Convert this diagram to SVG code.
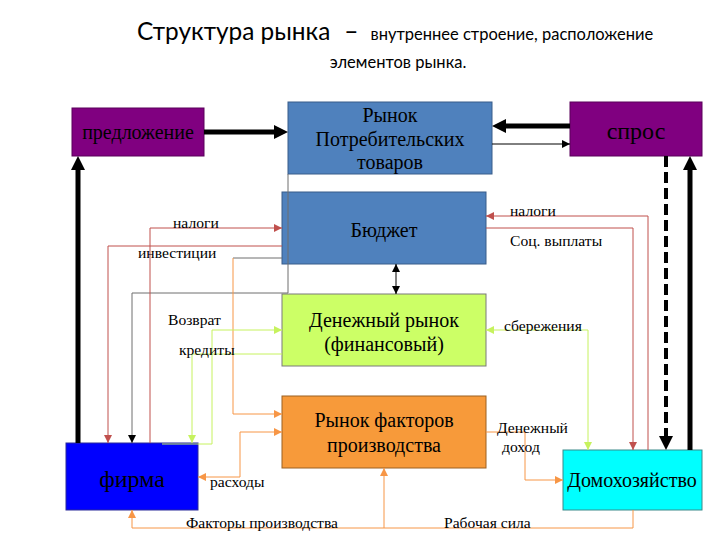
<svg xmlns="http://www.w3.org/2000/svg" width="720" height="540" viewBox="0 0 720 540">
<defs>
<style>
.title{font-family:Lato,"Open Sans","Liberation Sans",sans-serif;fill:#000}
.nt{font-family:"Liberation Serif","Times New Roman",serif;fill:#000;text-anchor:middle}
.lb{font-family:"Liberation Serif","Times New Roman",serif;font-size:15.6px;fill:#000}
.thick{fill:none;stroke:#000;stroke-width:5}
.dash{fill:none;stroke:#000;stroke-width:4;stroke-dasharray:11,5}
.thin{fill:none;stroke:#000;stroke-width:1}
.gray{fill:none;stroke:#6e6e6e;stroke-width:1}
.red{fill:none;stroke:#C0504D;stroke-width:1}
.grn{fill:none;stroke:#C6F25E;stroke-width:1}
.org{fill:none;stroke:#F79646;stroke-width:1}
</style>
<marker id="mBig" viewBox="0 0 14 14" refX="6" refY="7" markerWidth="14" markerHeight="14" markerUnits="userSpaceOnUse" orient="auto"><path d="M0,0 L14,7 L0,14 z" fill="#000"/></marker>
<marker id="mBlk" viewBox="0 0 8 8" refX="8" refY="4" markerWidth="8" markerHeight="8" markerUnits="userSpaceOnUse" orient="auto-start-reverse"><path d="M0,0 L8,4 L0,8 z" fill="#000"/></marker>
<marker id="mRed" viewBox="0 0 8 8" refX="8" refY="4" markerWidth="8" markerHeight="8" markerUnits="userSpaceOnUse" orient="auto-start-reverse"><path d="M0,0 L8,4 L0,8 z" fill="#C0504D"/></marker>
<marker id="mGrn" viewBox="0 0 8 8" refX="8" refY="4" markerWidth="8" markerHeight="8" markerUnits="userSpaceOnUse" orient="auto-start-reverse"><path d="M0,0 L8,4 L0,8 z" fill="#C6F25E"/></marker>
<marker id="mOrg" viewBox="0 0 8 8" refX="8" refY="4" markerWidth="8" markerHeight="8" markerUnits="userSpaceOnUse" orient="auto-start-reverse"><path d="M0,0 L8,4 L0,8 z" fill="#F79646"/></marker>
</defs>
<rect width="720" height="540" fill="#fff"/>
<g id="title">
<text class="title" x="137" y="40"><tspan font-size="24.4">Структура рынка</tspan><tspan font-size="24.4" dx="14">–</tspan><tspan font-size="16.5" dx="12">внутреннее строение, расположение</tspan></text>
<text class="title" x="398" y="68" font-size="16.5" text-anchor="middle">элементов рынка.</text>
</g>
<g id="node-supply">
<rect x="72" y="108" width="132" height="48" fill="#800080" stroke="#5a005a"/>
<text class="nt" x="138" y="139" font-size="20">предложение</text>
</g>
<g id="node-consumer-market">
<rect x="288" y="102" width="204" height="72" fill="#4F81BD" stroke="#385D8A"/>
<text class="nt" x="390" y="122" font-size="20">Рынок</text>
<text class="nt" x="390" y="146" font-size="20">Потребительских</text>
<text class="nt" x="390" y="169" font-size="20">товаров</text>
</g>
<g id="node-demand">
<rect x="570" y="102" width="132" height="54" fill="#800080" stroke="#5a005a"/>
<text class="nt" x="636" y="139" font-size="24">спрос</text>
</g>
<g id="node-budget">
<rect x="282" y="192" width="204" height="72" fill="#4F81BD" stroke="#385D8A"/>
<text class="nt" x="384" y="237" font-size="20">Бюджет</text>
</g>
<g id="node-money-market">
<rect x="282" y="294" width="204" height="72" fill="#CCFF66" stroke="#7a7a7a"/>
<text class="nt" x="384" y="327" font-size="20">Денежный рынок</text>
<text class="nt" x="384" y="351" font-size="20">(финансовый)</text>
</g>
<g id="node-factor-market">
<rect x="282" y="396" width="204" height="72" fill="#F79A3A" stroke="#9c6020"/>
<text class="nt" x="384" y="427" font-size="20">Рынок факторов</text>
<text class="nt" x="384" y="452" font-size="20">производства</text>
</g>
<g id="node-firm">
<rect x="66" y="443" width="132" height="67" fill="#0000FF" stroke="#2a2a99"/>
<text class="nt" x="132" y="487" font-size="24">фирма</text>
</g>
<g id="node-household">
<rect x="563" y="450" width="139" height="60" fill="#00FFFF" stroke="#3a8a8a"/>
<text class="nt" x="632" y="487" font-size="20">Домохозяйство</text>
</g>
<g id="connectors">
<path class="thick" d="M204,132 H280" marker-end="url(#mBig)"/>
<path class="thick" d="M570,126 H500" marker-end="url(#mBig)"/>
<path class="thin" d="M492,144 H570" marker-end="url(#mBlk)"/>
<path class="thick" d="M78,443 V164" marker-end="url(#mBig)"/>
<path class="thick" d="M690,450 V164" marker-end="url(#mBig)"/>
<path class="dash" d="M666,156 V442" marker-end="url(#mBig)"/>
<path class="gray" d="M288,174 V293 H132 V443" marker-end="url(#mBlk)"/>
<path class="thin" d="M396,264 V294" marker-start="url(#mBlk)" marker-end="url(#mBlk)"/>
<path class="red" d="M150,443 V228 H282" marker-end="url(#mRed)"/>
<path class="red" d="M282,246 H108 V443" marker-end="url(#mRed)"/>
<path class="gray" d="M282,258 H233"/>
<path class="org" d="M233,258 V414 H282" marker-end="url(#mOrg)"/>
<path class="grn" d="M162,444 H212 V330 H282" marker-end="url(#mGrn)"/>
<path class="grn" d="M282,354 H192 V443" marker-end="url(#mGrn)"/>
<path class="org" d="M198,477 H240 V432 H282" marker-start="url(#mOrg)" marker-end="url(#mOrg)"/>
<path class="org" d="M633,510 V528 H132 V510" marker-end="url(#mOrg)"/>
<path class="org" d="M384,528 V468" marker-end="url(#mOrg)"/>
<path class="org" d="M486,432 H525 V480 H563" marker-end="url(#mOrg)"/>
<path class="grn" d="M486,330 H588 V450" marker-start="url(#mGrn)" marker-end="url(#mGrn)"/>
<path class="red" d="M648,450 V216 H486" marker-end="url(#mRed)"/>
<path class="red" d="M486,228 H633 V450" marker-end="url(#mRed)"/>
</g>
<g id="labels">
<text class="lb" x="173" y="228">налоги</text>
<text class="lb" x="138" y="258">инвестиции</text>
<text class="lb" x="168" y="325">Возврат</text>
<text class="lb" x="179" y="355">кредиты</text>
<text class="lb" x="210" y="487">расходы</text>
<text class="lb" x="186" y="528">Факторы производства</text>
<text class="lb" x="444" y="528">Рабочая сила</text>
<text class="lb" x="497" y="433">Денежный</text>
<text class="lb" x="502" y="452">доход</text>
<text class="lb" x="504" y="331">сбережения</text>
<text class="lb" x="510" y="216">налоги</text>
<text class="lb" x="510" y="246">Соц. выплаты</text>
</g>
</svg>
